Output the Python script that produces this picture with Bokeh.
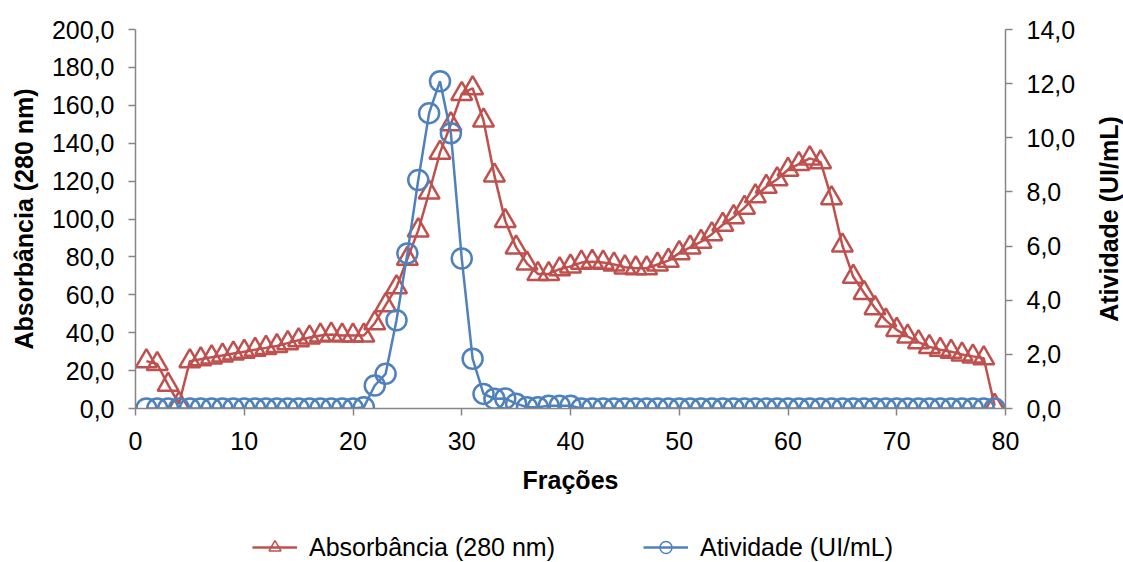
from bokeh.plotting import figure
from bokeh.layouts import column, row
from bokeh.models import (Range1d, LinearAxis, FixedTicker, CustomJSTickFormatter,
                          Legend, LegendItem)
from bokeh.embed import file_html
from bokeh.resources import INLINE

# ---- data ----
fractions = list(range(1, 80))
absorbance = [25, 23.5, 12.5, 2.5, 25, 26, 27, 28, 29, 30,
              31, 32, 33, 34.5, 36, 37.5, 38.5, 39, 38.5, 38.5,
              38.5, 45, 54.5, 64, 79, 94, 114, 135, 150, 166,
              169, 152, 123, 99, 85, 76.5, 71, 71, 73.5, 75,
              77, 77.5, 77, 76, 74.5, 74, 74, 76, 78, 82,
              85, 88, 92, 97, 101, 106, 112, 117, 121, 126,
              129, 132, 130, 111, 86, 69.5, 61, 53, 46.5, 41.5,
              38, 35, 32.5, 31, 30, 28.5, 27.5, 26.5, 1.5]
activity = [0, 0, 0, 0, 0, 0, 0, 0, 0, 0,
            0, 0, 0, 0, 0, 0, 0, 0, 0, 0,
            0.05, 0.85, 1.28, 3.26, 5.73, 8.44, 10.91, 12.09, 10.17, 5.54,
            1.84, 0.54, 0.36, 0.37, 0.18, 0.05, 0.05, 0.1, 0.1, 0.1,
            0, 0, 0, 0, 0, 0, 0, 0, 0, 0,
            0, 0, 0, 0, 0, 0, 0, 0, 0, 0,
            0, 0, 0, 0, 0, 0, 0, 0, 0, 0,
            0, 0, 0, 0, 0, 0, 0, 0, 0]
x_ticks = [0, 10, 20, 30, 40, 50, 60, 70, 80]
left_ticks = [0, 20, 40, 60, 80, 100, 120, 140, 160, 180, 200]
right_ticks = [0, 2, 4, 6, 8, 10, 12, 14]
series_names = ["Absorbância (280 nm)", "Atividade (UI/mL)"]

RED = "#C0504D"
BLUE = "#4F81BD"
AXIS = "#868686"
FONT = "Liberation Sans"
FS = "25px"

p = figure(width=1085, height=500, output_backend="svg", toolbar_location=None,
           x_range=Range1d(0, 80), y_range=Range1d(0, 200),
           min_border_left=135, min_border_right=80, min_border_top=29,
           min_border_bottom=92)
p.outline_line_color = None
p.xgrid.grid_line_color = None
p.ygrid.grid_line_color = None
p.extra_y_ranges = {"act": Range1d(0, 14)}

fmt = CustomJSTickFormatter(code="return tick.toFixed(1).replace('.', ',');")

def style_axis(ax):
    ax.axis_line_color = AXIS
    ax.axis_line_width = 1.5
    ax.major_tick_line_color = AXIS
    ax.major_tick_line_width = 1.5
    ax.major_tick_in = 0
    ax.major_tick_out = 7
    ax.minor_tick_line_color = None
    ax.major_label_text_font = FONT
    ax.major_label_text_font_size = FS
    ax.major_label_text_color = "#000000"
    ax.axis_label_text_font = FONT
    ax.axis_label_text_font_size = FS
    ax.axis_label_text_font_style = "bold"
    ax.axis_label_text_color = "#000000"

xa = p.xaxis[0]
style_axis(xa)
xa.ticker = FixedTicker(ticks=x_ticks)
xa.axis_label = "Frações"
xa.major_label_standoff = 16
xa.axis_label_standoff = 13

ya = p.yaxis[0]
style_axis(ya)
ya.ticker = FixedTicker(ticks=left_ticks)
ya.formatter = fmt
ya.axis_label = series_names[0]
ya.major_label_standoff = 14
ya.axis_label_standoff = 11

ra = LinearAxis(y_range_name="act", ticker=FixedTicker(ticks=right_ticks), formatter=fmt)
style_axis(ra)
ra.major_label_standoff = 14
p.add_layout(ra, "right")

p.line(fractions, absorbance, line_color=RED, line_width=2.5)
p.scatter(fractions, absorbance, marker="triangle", size=21, line_color=RED,
          line_width=2.5, fill_alpha=0)
p.line(fractions, activity, line_color=BLUE, line_width=2.5, y_range_name="act")
p.scatter(fractions, activity, marker="circle", size=20, line_color=BLUE,
          line_width=2.5, fill_alpha=0, y_range_name="act")

# right-hand axis title (reads bottom to top), in a narrow strip
tfig = figure(width=38, height=500, output_backend="svg", toolbar_location=None,
              x_range=Range1d(0, 1), y_range=Range1d(0, 14),
              x_axis_location=None, y_axis_location=None,
              min_border_left=37, min_border_right=0, min_border_top=29,
              min_border_bottom=92)
tfig.outline_line_color = None
tfig.grid.visible = False
tax = LinearAxis(ticker=FixedTicker(ticks=[]), axis_label=series_names[1])
style_axis(tax)
tax.axis_line_color = None
tax.major_tick_out = 0
tax.major_label_standoff = 0
tax.axis_label_standoff = 0
tfig.add_layout(tax, "left")

# legend strip below the chart (its frame is aligned with the chart's frame)
lg = figure(width=1085, height=62, output_backend="svg", toolbar_location=None,
            x_range=Range1d(-2, -1), y_range=Range1d(-2, -1),
            min_border_left=135, min_border_right=80, min_border_top=0, min_border_bottom=0)
lg.outline_line_color = None
lg.axis.visible = False
lg.grid.visible = False
l1 = lg.line(fractions, absorbance, line_color=RED, line_width=2.5)
m1 = lg.scatter(fractions, absorbance, marker="triangle", size=14, line_color=RED,
                line_width=1.5, fill_alpha=0)
l2 = lg.line(fractions, activity, line_color=BLUE, line_width=2.5)
m2 = lg.scatter(fractions, activity, marker="circle", size=12, line_color=BLUE,
                line_width=1.5, fill_alpha=0)
legend = Legend(items=[LegendItem(label=series_names[0], renderers=[l1, m1]),
                       LegendItem(label=series_names[1], renderers=[l2, m2])],
                orientation="horizontal", location=(117, 0),
                border_line_alpha=0, background_fill_alpha=0,
                label_text_font=FONT, label_text_font_size=FS, label_text_color="#000000",
                glyph_width=45, glyph_height=30, spacing=88, label_standoff=12,
                padding=0, margin=0)
lg.add_layout(legend, "center")

layout = row(column(p, lg, spacing=0), tfig, spacing=0)
open("out.html", "w").write(file_html(layout, INLINE))
